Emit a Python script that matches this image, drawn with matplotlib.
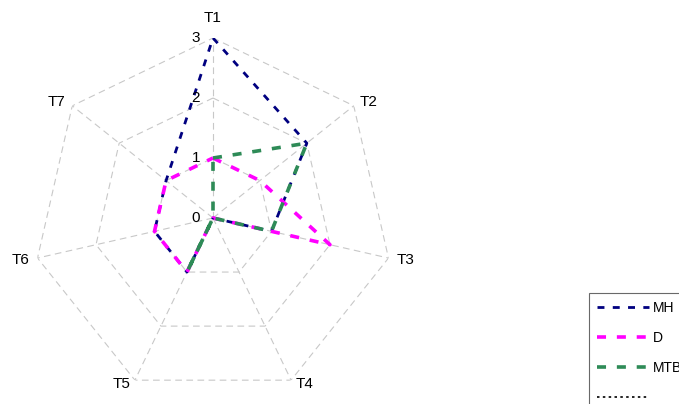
import numpy as np
import matplotlib
matplotlib.use("Agg")
import matplotlib.pyplot as plt

plt.rcParams['font.family'] = ['Liberation Sans', 'DejaVu Sans']

# data
axes_labels = ['T1', 'T2', 'T3', 'T4', 'T5', 'T6', 'T7']
mh = [3, 2, 1, 0, 1, 1, 1]
d = [1, 1, 2, 0, 1, 1, 1]
mtb = [1, 2, 1, 0, 1, 0, 0]
rings = [1, 2, 3]
ring_labels = ['0', '1', '2', '3']

# where each axis name sits relative to the outer vertex (pixels)
label_offsets = [(0, 20), (15, 4), (17, -2), (13, -4), (-13, -4), (-17, -2), (-16, 4)]

n = len(axes_labels)
theta = np.linspace(0, 2 * np.pi, n, endpoint=False)
theta_c = np.append(theta, theta[0])

def closed(v):
    return np.append(v, v[0])

fig = plt.figure(figsize=(6.79, 4.04), dpi=100)
ax = fig.add_axes([33 / 679, 6 / 404, 360 / 679, 360 / 404], projection='polar')
ax.set_theta_zero_location('N')
ax.set_theta_direction(-1)
ax.set_ylim(0, 3)
ax.grid(False)
ax.set_xticks([])
ax.set_yticks([])
ax.spines['polar'].set_visible(False)
ax.patch.set_visible(False)

grid_col = '#c8c8c8'
for r in rings:
    ax.plot(theta_c, [r] * (n + 1), color=grid_col, lw=0.8, ls=(0, (6, 4)), zorder=1)
for t in theta:
    ax.plot([t, t], [0, 3], color=grid_col, lw=0.8, ls=(0, (6, 4)), zorder=1)

ax.plot(theta_c, closed(mh), color='#000080', lw=2.0, ls=(0, (2.5, 3)), label='MH', zorder=3)
ax.plot(theta_c, closed(d), color='#ff00ff', lw=2.6, ls=(0, (2.5, 3)), label='D', zorder=4)
ax.plot(theta_c, closed(mtb), color='#2e8b57', lw=2.6, ls=(0, (2.5, 3)), label='MTB', zorder=5)
ax.plot([], [], color='black', lw=1.2, ls=(0, (1.5, 2)), label=' ')

# axis names
for t, lab, off in zip(theta, axes_labels, label_offsets):
    ax.annotate(lab, xy=(t, 3), xytext=off, textcoords='offset pixels',
                ha='center', va='center', fontsize=11, annotation_clip=False)

# radial labels along T1
for i, lab in enumerate(ring_labels):
    ax.text(0, i, lab + '   ', ha='right', va='center', fontsize=11)

leg = fig.legend(loc='upper left', bbox_to_anchor=(589 / 679, 1 - 293 / 404),
                 fontsize=10, frameon=True, fancybox=False, edgecolor='#444444',
                 handlelength=3.75, handletextpad=0.3, labelspacing=1.15,
                 borderpad=0.55, borderaxespad=0)
leg.get_frame().set_linewidth(0.8)

fig.savefig('out.png', dpi=100)
